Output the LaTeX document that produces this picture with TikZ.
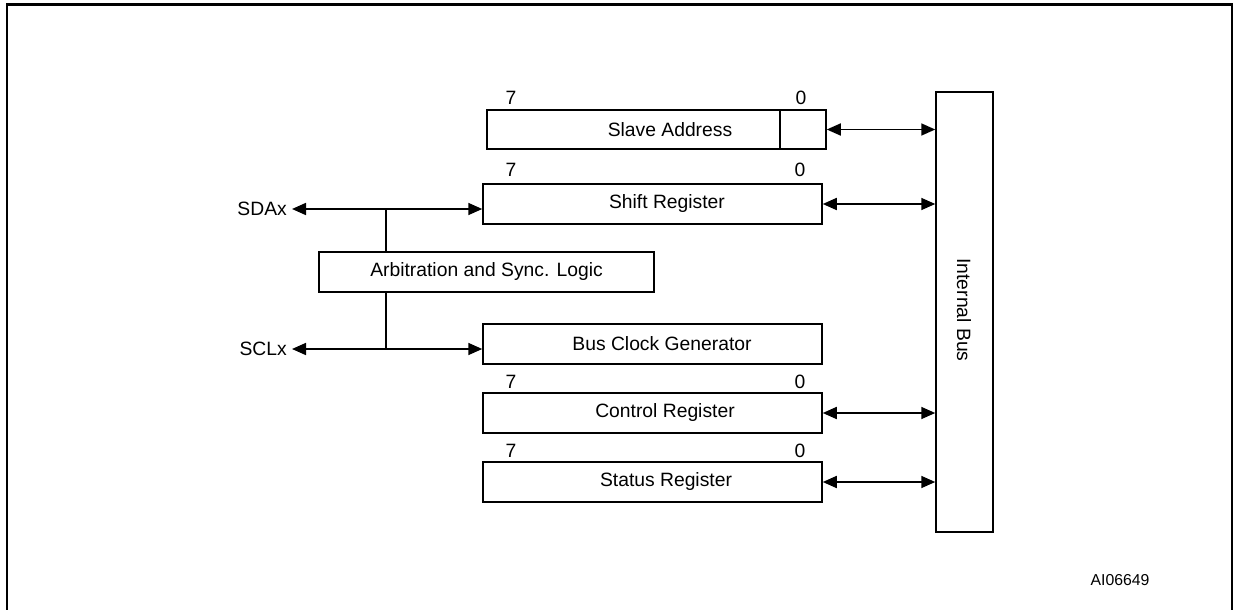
\documentclass[tikz,border=0pt]{standalone}
\usepackage{fontspec}
\setmainfont{Liberation Sans}
\usetikzlibrary{arrows.meta}
\begin{document}
\begin{tikzpicture}[x=1pt,y=-1pt,
  reg/.style={draw,line width=1.5pt,minimum width=339pt,minimum height=40pt,inner sep=0pt,anchor=center},
  txt/.style={font=\fontsize{19.3pt}{22pt}\selectfont,inner sep=0pt},
  bit/.style={font=\fontsize{19.3pt}{22pt}\selectfont,inner sep=0pt},
  conn/.style={line width=1.7pt,{Triangle[length=14pt,width=12pt]}-{Triangle[length=14pt,width=12pt]}},
  wire/.style={line width=1.6pt}]
\useasboundingbox (0,0) rectangle (1239,610);
% frame
\draw[line width=2.6pt] (7,615) -- (7,4.5) -- (1232,4.5) -- (1232,615);
% registers
\node[reg,minimum height=39pt] (slave) at (656.5,129.5) {};
\draw[wire] (780,110) -- (780,149);
\node[reg] (shift) at (652.5,204) {};
\node[reg] (clk) at (652.5,344) {};
\node[reg] (ctrl) at (652.5,413) {};
\node[reg] (stat) at (652.5,482) {};
\node[reg,minimum width=335pt] (arb) at (486.5,272) {};
\node[draw,line width=1.5pt,minimum width=57pt,minimum height=440pt,inner sep=0pt] (bus) at (964.5,312) {};
% texts
\node[txt] (tslave) at (670,130) {Slave Address};
\node[txt] (tshift) at (667,204) {Shift Register};
\node[txt] (tclk) at (662,344) {Bus Clock Generator};
\node[txt] (tctrl) at (665,413) {Control Register};
\node[txt] (tstat) at (666,482) {Status Register};
\node[txt] (tarb) at (486.5,272) {Arbitration and Sync. Logic};
\node[txt,rotate=-90] (tbus) at (964,310) {Internal Bus};
% bit labels
\node[bit] (s7) at (511,98) {7};
\node[bit] (s0) at (801,98) {0};
\node[bit] (h7) at (511,170) {7};
\node[bit] (h0) at (800,170) {0};
\node[bit] (c7) at (511,382) {7};
\node[bit] (c0) at (800,382) {0};
\node[bit] (t7) at (511,451) {7};
\node[bit] (t0) at (800,451) {0};
% signals
\node[txt,anchor=east] (sda) at (287,209) {SDAx};
\node[txt,anchor=east] (scl) at (287,349) {SCLx};
\coordinate (jsda) at (386,209);
\coordinate (jscl) at (386,349);
\draw[conn] ([xshift=5pt]sda.east) -- (jsda -| shift.west);
\draw[conn] ([xshift=5pt]scl.east) -- (jscl -| clk.west);
\draw[wire] (jsda) -- (jsda |- arb.north);
\draw[wire] (arb.south -| jscl) -- (jscl);
% bus connections
\draw[conn] (slave.east) -- (slave.east -| bus.west);
\draw[conn] (shift.east) -- (shift.east -| bus.west);
\draw[conn] (ctrl.east) -- (ctrl.east -| bus.west);
\draw[conn] (stat.east) -- (stat.east -| bus.west);
% id
\node[font=\fontsize{15.8pt}{18pt}\selectfont,inner sep=0pt] (id) at (1120,580) {AI06649};
\end{tikzpicture}
\end{document}
